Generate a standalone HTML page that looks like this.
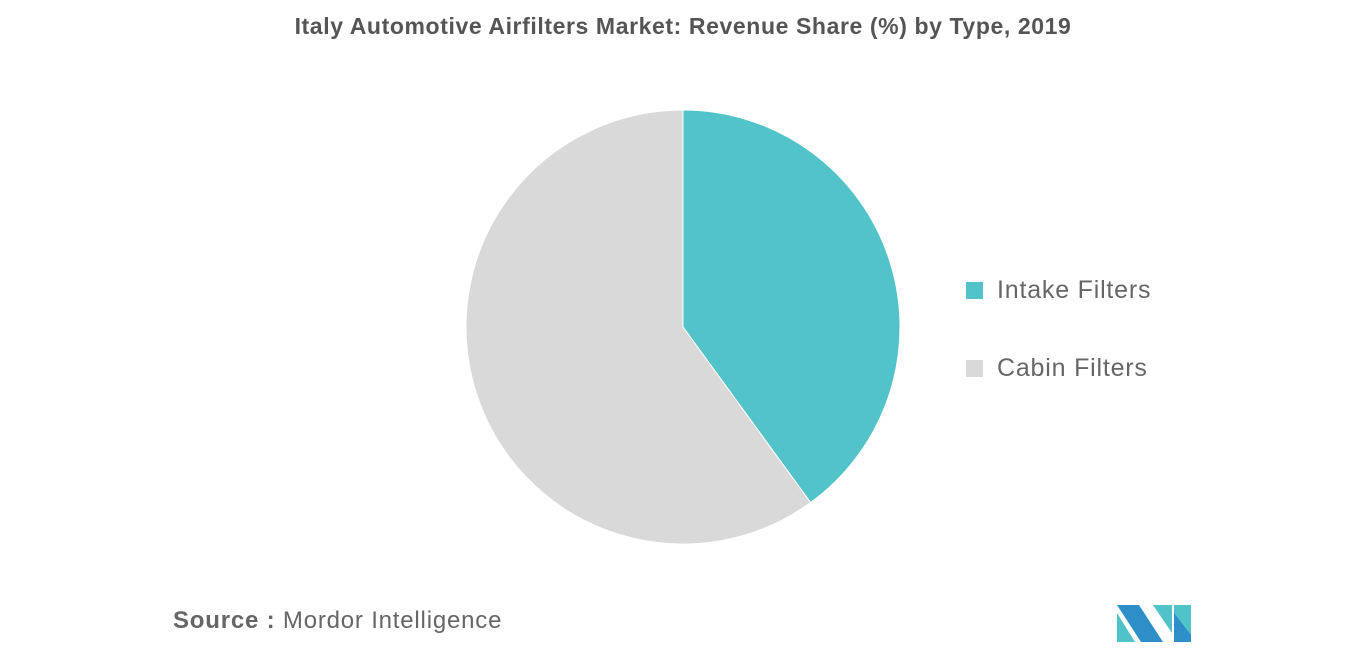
<!DOCTYPE html>
<html><head><meta charset="utf-8"><style>
body{margin:0;width:1366px;height:655px;background:#fff;font-family:"Liberation Sans",sans-serif;overflow:hidden;position:relative}
.t{position:absolute}
</style></head><body>
<div class="t" style="left:0;width:1366px;top:13px;text-align:center;font-size:23px;font-weight:bold;color:#555;letter-spacing:0.6px">Italy Automotive Airfilters Market: Revenue Share (%) by Type, 2019</div>
<svg id="pie" width="1366" height="655" style="position:absolute;left:0;top:0"></svg>
<div class="t" style="left:966px;top:275px;font-size:25px;color:#666;line-height:30px;letter-spacing:0.8px"><span style="display:inline-block;width:17px;height:17px;background:#52c4c9;margin-right:14px;vertical-align:-1px"></span>Intake Filters</div>
<div class="t" style="left:966px;top:353px;font-size:25px;color:#666;line-height:30px;letter-spacing:0.8px"><span style="display:inline-block;width:17px;height:17px;background:#d9d9d9;margin-right:14px;vertical-align:-1px"></span>Cabin Filters</div>
<div class="t" style="left:173px;top:607px;font-size:24px;color:#666;letter-spacing:0.8px"><b>Source :</b> Mordor Intelligence</div>
<svg class="t" style="left:1117px;top:605px" width="75" height="37" viewBox="0 0 75 37">
<polygon points="0,0 22,0 46,37 24,37" fill="#2e8fc8"/>
<polygon points="0,8 0,37 18,37" fill="#4fc3c8"/>
<polygon points="36,0 55,0 55,28" fill="#4fc3c8"/>
<polygon points="57,0 74,0 74,37 57,37" fill="#4fc3c8"/>
<polygon points="57,8 57,37 74,37 74,30" fill="#2e8fc8"/>
</svg>
<script>
const categories=["Intake Filters","Cabin Filters"];
const values=[40,60];
const colors=["#52c4c9","#d9d9d9"];
const svg=document.getElementById('pie');
const cx=683,cy=327,r=217;
const total=values.reduce((a,b)=>a+b,0);
let a0=0;
values.forEach((v,i)=>{
 const a1=a0+v/total*2*Math.PI;
 const p=(a)=>[cx+r*Math.sin(a),cy-r*Math.cos(a)];
 const [x0,y0]=p(a0),[x1,y1]=p(a1);
 const path=document.createElementNS('http://www.w3.org/2000/svg','path');
 path.setAttribute('d',`M${cx},${cy}L${x0},${y0}A${r},${r} 0 ${a1-a0>Math.PI?1:0} 1 ${x1},${y1}Z`);
 path.setAttribute('fill',colors[i]);
 path.setAttribute('stroke','#fff');
 path.setAttribute('stroke-width','1');
 
 
 svg.appendChild(path);
 a0=a1;
});
</script>
</body></html>
